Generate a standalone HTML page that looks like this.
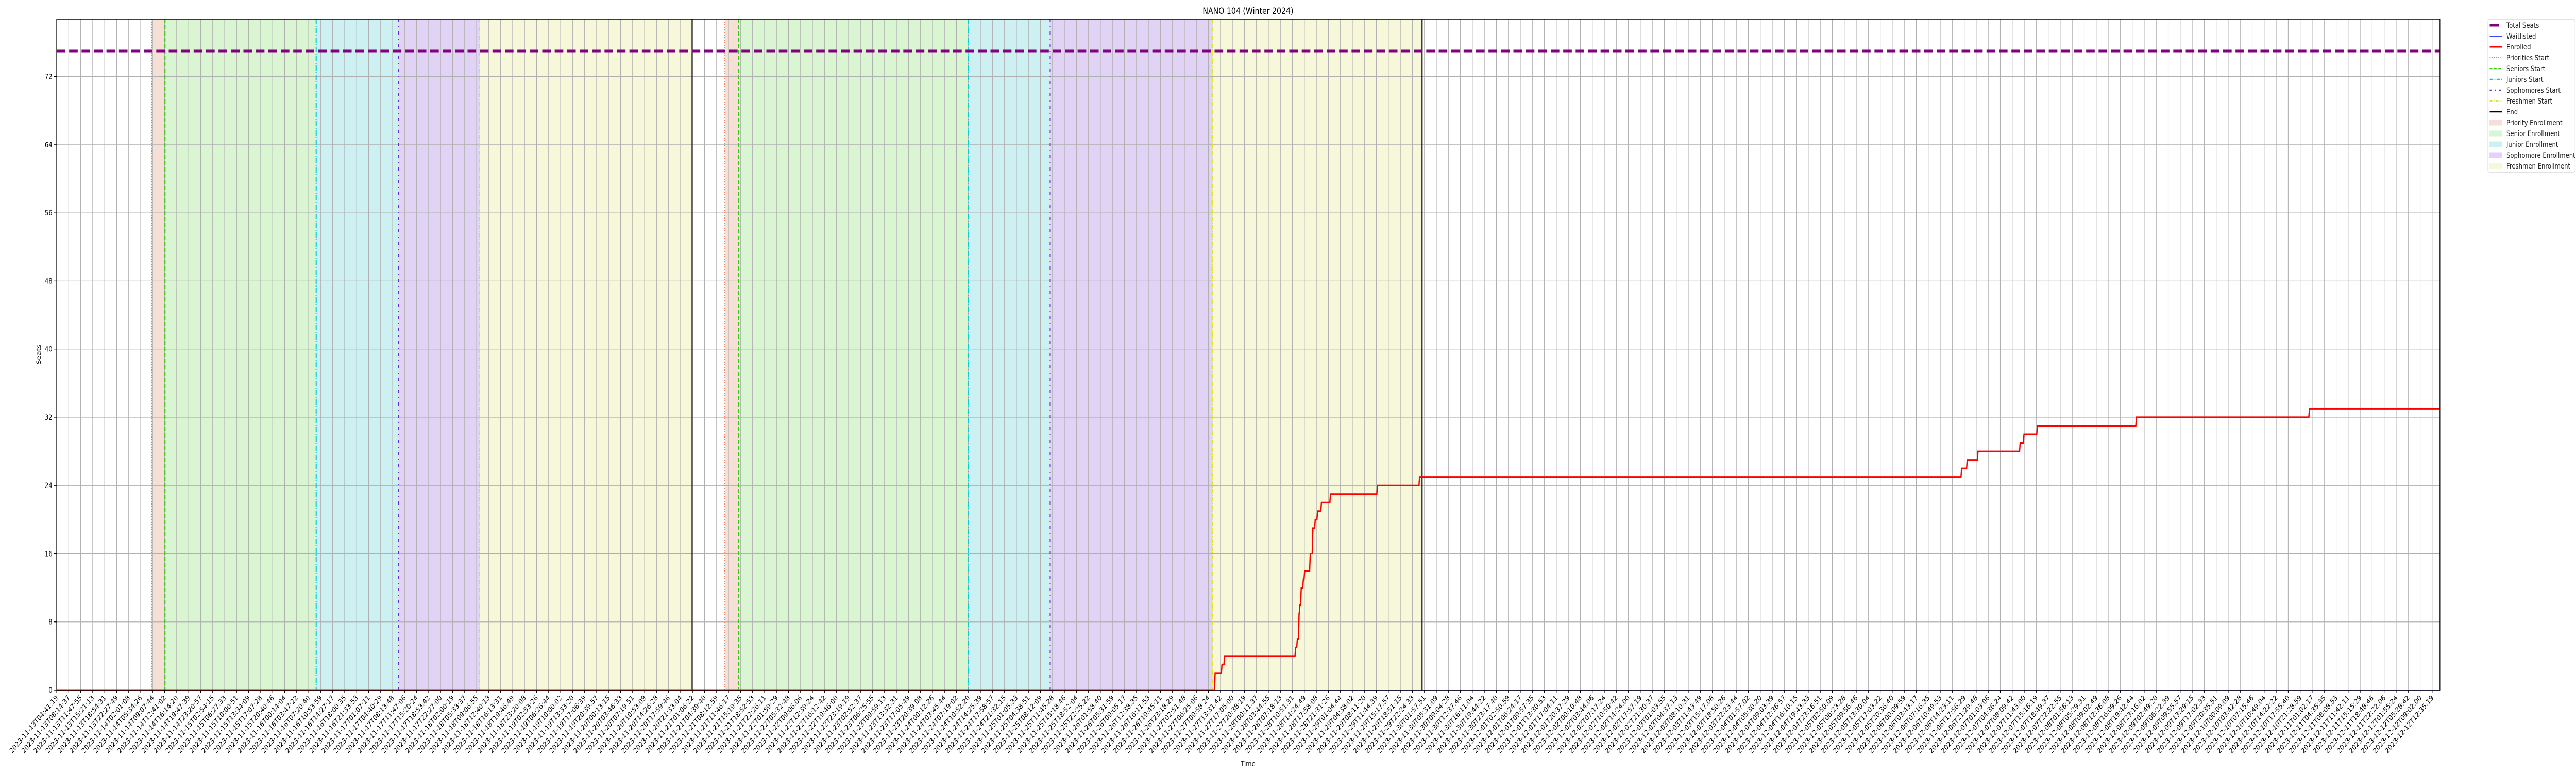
<!DOCTYPE html>
<html><head><meta charset="utf-8">
<style>
html,body{margin:0;padding:0;background:#fff;width:100%;height:100%;overflow:hidden;}
svg{display:block;width:100vw;height:100vh;overflow:hidden;font-family:"DejaVu Sans","Liberation Sans",sans-serif;}
</style></head>
<body>
<svg id="chart" viewBox="0 0 6000 1500" preserveAspectRatio="none" xmlns="http://www.w3.org/2000/svg">
  <text x="2907" y="27" font-size="17" text-anchor="middle">NANO 104 (Winter 2024)</text>
  <g id="regions"></g>
  <g id="grid"></g>
  <g id="vlines"></g>
  <g id="series"></g>
  <g id="axes"></g>
  <text x="0" y="0" font-size="14" text-anchor="middle" transform="translate(95,688) rotate(-90)">Seats</text>
  <text x="2907" y="1487" font-size="14" text-anchor="middle">Time</text>
  <g id="legend"></g>
</svg>
<script>
// ---- data (hours since 2023-11-13T04:41:19) ----
const totalSeats = 75;
const yTicks = [0, 8, 16, 24, 32, 40, 48, 56, 64, 72];
const axisStartHours = 0;
const axisEndHours = 706.19;
const tickCount = 199;
const lastTickHours = 703.9;
const startDateMs = Date.UTC(2023, 10, 13, 4, 41, 19);
const enrolledHours = [0, 343.27, 345.31, 346.08, 367.13, 367.64, 368.15, 368.40, 368.79, 369.42, 369.81, 371.46, 372.23, 372.93, 373.63, 374.78, 377.46, 391.36, 403.86, 564.47, 566.13, 569.32, 581.82, 582.96, 586.92, 616.26, 667.54];
const enrolledValues = [0, 2, 3, 4, 5, 6, 9, 10, 12, 13, 14, 16, 19, 20, 21, 22, 23, 24, 25, 26, 27, 28, 29, 30, 31, 32, 33];
const waitlistedHours = [0, 706.19];
const waitlistedValues = [0, 0];
const priorityStart = [28.1, 198.0];
const seniorStart = [32.1, 202.1];
const juniorStart = [76.9, 270.2];
const sophomoreStart = [101.3, 294.4];
const freshmenStart = [125.3, 342.5];
const endTimes = [188.3, 404.6];

// ---- layout ----
const L = 132, R = 5683, T = 37, B = 1339;
const yMax = 78.75;
const NS = "http://www.w3.org/2000/svg";
function xs(h){ return L + (h - axisStartHours) / (axisEndHours - axisStartHours) * (R - L); }
function ys(v){ return B - v / yMax * (B - T); }
function mk(tag, attrs, parent){
  const e = document.createElementNS(NS, tag);
  for (const k in attrs) e.setAttribute(k, attrs[k]);
  parent.appendChild(e); return e;
}
const gReg = document.getElementById('regions');
const gGrid = document.getElementById('grid');
const gV = document.getElementById('vlines');
const gS = document.getElementById('series');
const gA = document.getElementById('axes');
const gL = document.getElementById('legend');

// regions
const regionColors = ['#f6e0d6', '#daf5d2', '#cdf1f3', '#e1d3f5', '#f7f8da'];
for (let k = 0; k < endTimes.length; k++) {
  const bounds = [priorityStart[k], seniorStart[k], juniorStart[k], sophomoreStart[k], freshmenStart[k], endTimes[k]];
  const names = ['priority', 'senior', 'junior', 'sophomore', 'freshmen'];
  for (let i = 0; i < 5; i++) {
    const r = mk('rect', {x: xs(bounds[i]), y: T, width: xs(bounds[i+1]) - xs(bounds[i]), height: B - T, fill: regionColors[i]}, gReg);
    
    
  }
}

// x ticks & grid
function fmt(ms){
  const d = new Date(ms); const p = n => String(n).padStart(2, '0');
  return d.getUTCFullYear() + '-' + p(d.getUTCMonth()+1) + '-' + p(d.getUTCDate()) + 'T' + p(d.getUTCHours()) + ':' + p(d.getUTCMinutes()) + ':' + p(d.getUTCSeconds());
}
for (let i = 0; i < tickCount; i++) {
  const h = lastTickHours * i / (tickCount - 1);
  const x = xs(h);
  const gl = mk('line', {x1: x, x2: x, y1: T, y2: B, stroke: '#b0b0b0', 'stroke-width': 1.3}, gGrid);
  
  
  const tk = mk('line', {x1: x, x2: x, y1: B, y2: B + 6, stroke: '#000', 'stroke-width': 1.3}, gA);
  
  
  const t = mk('text', {x: 0, y: 0, 'font-size': 14, 'text-anchor': 'end', transform: 'translate(' + (x + 4) + ',' + (B + 16) + ') rotate(-45)'}, gA);
  t.textContent = fmt(startDateMs + h * 3600000);
  
  
}
// y ticks & grid
for (const v of yTicks) {
  const y = ys(v);
  const gl = mk('line', {x1: L, x2: R, y1: y, y2: y, stroke: '#b0b0b0', 'stroke-width': 1.3}, gGrid);
  
  
  const tk = mk('line', {x1: L - 6, x2: L, y1: y, y2: y, stroke: '#000', 'stroke-width': 1.3}, gA);
  
  
  const t = mk('text', {x: L - 10, y: y + 5, 'font-size': 14, 'text-anchor': 'end'}, gA);
  t.textContent = v;
  
  
}

// vertical markers
const markerStyles = [
  [priorityStart, '#ee7040', '2,3', 2],
  [seniorStart, '#33cc11', '8,4', 2.5],
  [juniorStart, '#11c8d6', '10,3,2,3', 2.5],
  [sophomoreStart, '#6a2bd9', '6,8,2,8', 2.5],
  [freshmenStart, '#e0e030', '8,3,2,3', 2],
  [endTimes, '#000000', 'none', 2.5]
];
const markerNames = ['priorities-start', 'seniors-start', 'juniors-start', 'sophomores-start', 'freshmen-start', 'end'];
markerStyles.forEach((ms, j) => {
  ms[0].forEach(h => {
    const l = mk('line', {x1: xs(h), x2: xs(h), y1: T, y2: B, stroke: ms[1], 'stroke-width': ms[3], 'stroke-dasharray': ms[2]}, gV);
    
    
  });
});

// total seats
const ts = mk('line', {x1: L, x2: R, y1: ys(totalSeats), y2: ys(totalSeats), stroke: '#800080', 'stroke-width': 5, 'stroke-dasharray': '20,9'}, gS);



// waitlisted
let wd = '';
waitlistedHours.forEach((h, i) => { wd += (i ? 'L' : 'M') + xs(h) + ',' + ys(waitlistedValues[i]); });
const wl = mk('path', {d: wd, fill: 'none', stroke: '#0000ff', 'stroke-width': 1.5}, gS);



// enrolled (steps with slight slant)
let ed = 'M' + xs(enrolledHours[0]) + ',' + ys(enrolledValues[0]);
for (let i = 1; i < enrolledHours.length; i++) {
  const x = xs(enrolledHours[i]);
  ed += 'L' + (x - 1.5) + ',' + ys(enrolledValues[i-1]) + 'L' + x + ',' + ys(enrolledValues[i]);
}
ed += 'L' + xs(axisEndHours) + ',' + ys(enrolledValues[enrolledValues.length-1]);
const el = mk('path', {d: ed, fill: 'none', stroke: '#ff0000', 'stroke-width': 3, 'stroke-linejoin': 'miter'}, gS);



// spines
const sp = mk('rect', {x: L, y: T, width: R - L, height: B - T, fill: 'none', stroke: '#000', 'stroke-width': 1.5}, gA);



// legend
const lb = mk('rect', {x: 5795, y: 38, width: 203, height: 296, rx: 3, fill: '#fff', stroke: '#d0d0d0', 'stroke-width': 1.3}, gL);


const legendLabels = ['Total Seats', 'Waitlisted', 'Enrolled', 'Priorities Start', 'Seniors Start', 'Juniors Start', 'Sophomores Start', 'Freshmen Start', 'End', 'Priority Enrollment', 'Senior Enrollment', 'Junior Enrollment', 'Sophomore Enrollment', 'Freshmen Enrollment'];
const legendLine = [
  ['#800080', 5, 'none'], ['#0000ff', 1.5, 'none'], ['#ff0000', 3, 'none'], ['#ee7040', 2, '2,3'],
  ['#33cc11', 2.5, '6,4'], ['#11c8d6', 2.5, '8,3,2,3'], ['#6a2bd9', 2.5, '4,8,2,8'], ['#e0e030', 2, '6,3,2,3'], ['#000', 2.5, 'none']
];
legendLabels.forEach((lab, i) => {
  const y = 49 + i * 21;
  if (i < 9) {
    const st = legendLine[i];
    const x2 = i === 0 ? 5820 : 5828;
    const l = mk('line', {x1: 5799, x2: x2, y1: y, y2: y, stroke: st[0], 'stroke-width': st[1], 'stroke-dasharray': st[2]}, gL);
    
    
  } else {
    const r = mk('rect', {x: 5799, y: y - 5, width: 29, height: 10, fill: regionColors[i-9], stroke: regionColors[i-9]}, gL);
    
    
  }
  const t = mk('text', {x: 5838, y: y + 5, 'font-size': 14, fill: '#222'}, gL);
  t.textContent = lab;
  
  
});
</script>
</body></html>
